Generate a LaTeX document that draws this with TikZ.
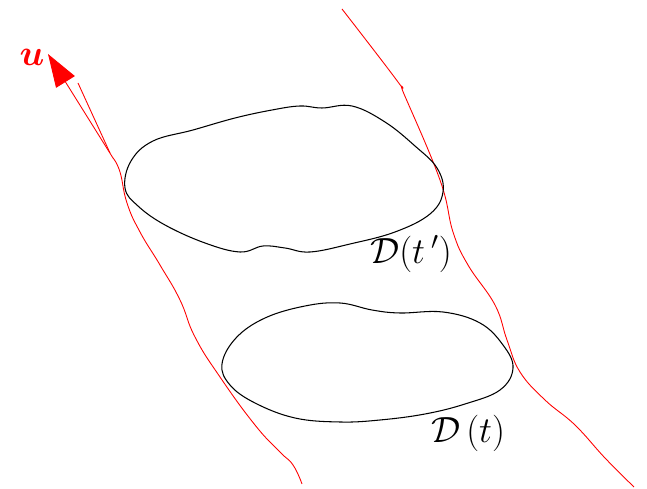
\documentclass[tikz,border=0pt]{standalone}
\usepackage{amsmath,amssymb}
\usepackage{tikz}
\usetikzlibrary{arrows.meta}

\begin{document}
\begin{tikzpicture}[x=.02cm,y=-.02cm,>={Triangle[length=.66cm,width=.44cm]},
  tube/.style={red,line width=.5pt},
  blob/.style={black,line width=.6pt}]
  \useasboundingbox (0,0) rectangle (647,489);
  % flow tube walls
  \draw[tube] plot[smooth,tension=.8] coordinates {(113,158) (120,172) (127,203) (140,232) (160,265)
    (180,300) (195,337) (220,377) (255,425) (280,452) (293,465) (302,484)};
  \draw[tube] plot[smooth,tension=.7] coordinates {(342,9) (398,82) (404,94) (440,180) (453,232)
    (468,265) (495,305) (507,340) (520,372) (545,400) (575,425) (605,458) (634,487)};
  % velocity u
  \coordinate (foot) at (113,158);
  \coordinate (tip) at (48,54);
  \coordinate (footb) at (110,153);
  \coordinate (topb) at (78,83);
  \draw[tube,->] (foot)--(tip);
  \draw[tube] (footb)--(topb);
  \node[red] (u) at (32,57) {\fontsize{22}{24}\selectfont$\boldsymbol{u}$};
  % domain at t'
  \draw[blob] plot[smooth cycle,tension=.65] coordinates {(125,188) (131,161) (153,141) (193,130)
    (235,118) (272,110) (300,106) (322,108) (352,106) (385,122) (415,146) (437,168) (443,192)
    (430,214) (395,232) (350,244) (310,252) (285,248) (263,246) (240,252) (205,243) (165,225)
    (138,206)};
  \node (Dtp) at (411,254) {\fontsize{20}{22}\selectfont$\mathcal{D}(t\,')$};
  % domain at t
  \draw[blob] plot[smooth cycle,tension=.65] coordinates {(222,364) (236,338) (265,318) (305,306)
    (340,303) (372,310) (400,313) (443,312) (480,323) (503,345) (513,368) (500,390) (465,404)
    (425,414) (380,420) (340,422) (295,418) (255,403) (230,385)};
  \node (Dt) at (468,433) {\fontsize{20}{22}\selectfont$\mathcal{D}\,(t)$};
\end{tikzpicture}
\end{document}
